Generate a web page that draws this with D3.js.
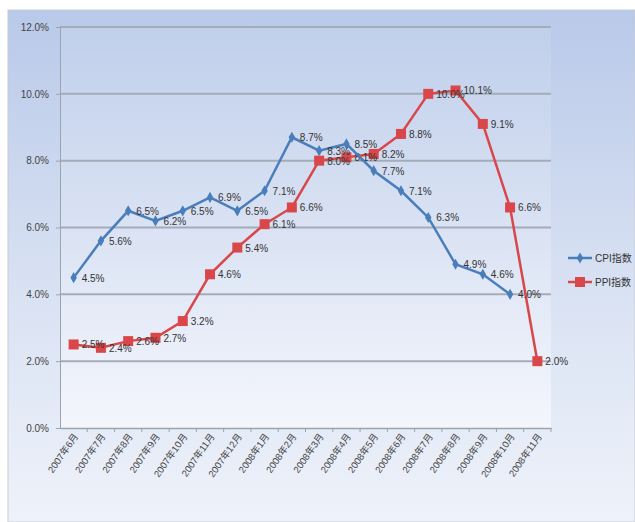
<!DOCTYPE html>
<html>
<head>
<meta charset="utf-8">
<script src="https://cdn.jsdelivr.net/npm/d3@7"></script>
<style>
  body { margin: 0; background: #fff; }
  text { font-family: "Liberation Sans", "Noto Sans CJK SC", sans-serif; }
</style>
</head>
<body>
<div id="chart"></div>
<script>
const months = ['2007年6月', '2007年7月', '2007年8月', '2007年9月', '2007年10月', '2007年11月',
  '2007年12月', '2008年1月', '2008年2月', '2008年3月', '2008年4月', '2008年5月',
  '2008年6月', '2008年7月', '2008年8月', '2008年9月', '2008年10月', '2008年11月'];
const cpi = [4.5, 5.6, 6.5, 6.2, 6.5, 6.9, 6.5, 7.1, 8.7, 8.3, 8.5, 7.7, 7.1, 6.3, 4.9, 4.6, 4.0, null];
const ppi = [2.5, 2.4, 2.6, 2.7, 3.2, 4.6, 5.4, 6.1, 6.6, 8.0, 8.1, 8.2, 8.8, 10.0, 10.1, 9.1, 6.6, 2.0];
const yTicks = [0, 2, 4, 6, 8, 10, 12];
const seriesNames = ['CPI指数', 'PPI指数'];

const width = 635, height = 522;
const svg = d3.select('#chart').append('svg')
  .attr('width', width)
  .attr('height', height);

// background gradients
const defs = svg.append('defs');
const bg = defs.append('linearGradient').attr('id', 'bg')
  .attr('x1', 0).attr('y1', 0).attr('x2', 0).attr('y2', 1);
bg.append('stop').attr('offset', '0%').attr('stop-color', '#b9c9e9');
bg.append('stop').attr('offset', '55%').attr('stop-color', '#d9e2f3');
bg.append('stop').attr('offset', '100%').attr('stop-color', '#eef2fa');
const pg = defs.append('linearGradient').attr('id', 'pg')
  .attr('x1', 0).attr('y1', 0).attr('x2', 0).attr('y2', 1);
pg.append('stop').attr('offset', '0%').attr('stop-color', '#c0cfeb');
pg.append('stop').attr('offset', '100%').attr('stop-color', '#f4f6fc');

svg.append('rect')
  .attr('x', 8).attr('y', 10)
  .attr('width', width - 8).attr('height', height - 10)
  .attr('fill', 'url(#bg)')
  .attr('stroke', '#c8ccd4');

const x = d3.scaleBand().domain(months).range([60, 551]);
const y = d3.scaleLinear().domain([0, 12]).range([428, 27]);

svg.append('rect')
  .attr('x', 60).attr('y', 27)
  .attr('width', 491).attr('height', 401)
  .attr('fill', 'url(#pg)');

// gridlines
svg.append('g')
  .selectAll('line')
  .data(yTicks.filter(d => d > 0))
  .enter().append('line')
  .attr('x1', 60).attr('x2', 551)
  .attr('y1', d => y(d)).attr('y2', d => y(d))
  .attr('stroke', '#a3acb9')
  .attr('stroke-width', 2);

// y axis
const yAxis = svg.append('g')
  .attr('transform', 'translate(60,0)')
  .call(d3.axisLeft(y).tickValues(yTicks).tickSize(4).tickFormat(d => d.toFixed(1) + '%'));
yAxis.select('.domain').attr('stroke', '#9aa3b0');
yAxis.selectAll('line').attr('stroke', '#9aa3b0');
yAxis.selectAll('text').attr('font-size', 10).attr('fill', '#444').attr('dx', -4);

// x axis
const xAxis = svg.append('g')
  .attr('transform', 'translate(0,428)')
  .call(d3.axisBottom(x).tickSize(0).tickFormat(d => d));
xAxis.select('.domain').attr('stroke', '#9aa3b0').attr('stroke-width', 1.5);
xAxis.selectAll('text')
  .attr('font-size', 9.5)
  .attr('fill', '#444')
  .attr('text-anchor', 'end')
  .attr('transform', 'rotate(-55)')
  .attr('dx', -4)
  .attr('dy', 6);
// boundary ticks
svg.append('g')
  .selectAll('line')
  .data(months)
  .enter().append('line')
  .attr('x1', d => x(d) + x.bandwidth()).attr('x2', d => x(d) + x.bandwidth())
  .attr('y1', 428).attr('y2', 432)
  .attr('stroke', '#9aa3b0');

const cx = i => x(months[i]) + x.bandwidth() / 2;

function drawSeries(values, color, marker) {
  const line = d3.line()
    .defined(d => d != null)
    .x((d, i) => cx(i))
    .y(d => y(d));
  svg.append('path')
    .datum(values)
    .attr('fill', 'none')
    .attr('stroke', color)
    .attr('stroke-width', 2.5)
    .attr('d', line);

  const pts = values.map((v, i) => ({ v, i })).filter(d => d.v != null);
  const g = svg.append('g');
  if (marker === 'square') {
    g.selectAll('rect').data(pts).enter().append('rect')
      .attr('x', d => cx(d.i) - 5).attr('y', d => y(d.v) - 5)
      .attr('width', 10).attr('height', 10)
      .attr('fill', color);
  } else {
    g.selectAll('path').data(pts).enter().append('path')
      .attr('d', d3.symbol().type(d3.symbolDiamond).size(36))
      .attr('transform', d => `translate(${cx(d.i)},${y(d.v)})`)
      .attr('fill', color);
  }
  svg.append('g')
    .selectAll('text')
    .data(pts)
    .enter().append('text')
    .attr('x', d => cx(d.i) + 8)
    .attr('y', d => y(d.v) + 4)
    .attr('font-size', 10)
    .attr('fill', '#333')
    .text(d => d.v.toFixed(1) + '%');
}

drawSeries(ppi, '#d9474a', 'square');
drawSeries(cpi, '#4a7ebb', 'diamond');

// legend
const legend = svg.append('g');
[['#4a7ebb', 'diamond'], ['#d9474a', 'square']].forEach(([color, marker], k) => {
  const ly = 258 + k * 24;
  legend.append('line')
    .attr('x1', 568).attr('x2', 592)
    .attr('y1', ly).attr('y2', ly)
    .attr('stroke', color).attr('stroke-width', 2.5);
  if (marker === 'square') {
    legend.append('rect').attr('x', 575).attr('y', ly - 5)
      .attr('width', 10).attr('height', 10).attr('fill', color);
  } else {
    legend.append('path')
      .attr('d', d3.symbol().type(d3.symbolDiamond).size(36))
      .attr('transform', `translate(580,${ly})`)
      .attr('fill', color);
  }
  legend.append('text')
    .attr('x', 595).attr('y', ly + 4)
    .attr('font-size', 10)
    .attr('fill', '#333')
    .text(seriesNames[k]);
});
</script>
</body>
</html>
